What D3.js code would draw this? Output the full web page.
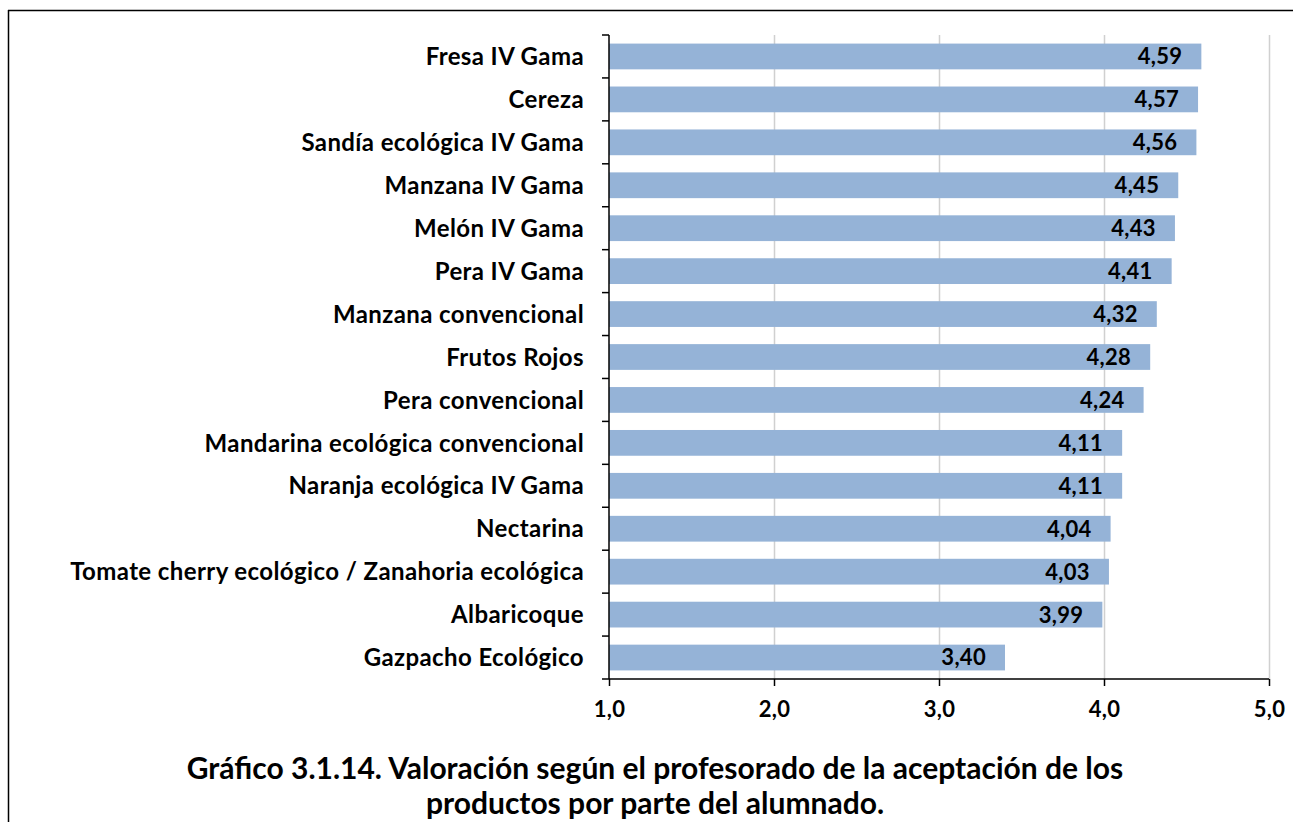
<!doctype html>
<html>
<head>
<meta charset="utf-8">
<style>
    body { margin: 0; background: #fff; }
    svg text { font-family: Lato, "Open Sans", sans-serif; font-weight: bold; fill: #000; }
</style>
<script src="https://d3js.org/d3.v7.min.js"></script>
</head>
<body>
<svg width="1293" height="822"></svg>
<script>
var categories = ["Fresa IV Gama", "Cereza", "Sandía ecológica IV Gama", "Manzana IV Gama",
    "Melón IV Gama", "Pera IV Gama", "Manzana convencional", "Frutos Rojos",
    "Pera convencional", "Mandarina ecológica convencional", "Naranja ecológica IV Gama",
    "Nectarina", "Tomate cherry ecológico / Zanahoria ecológica", "Albaricoque",
    "Gazpacho Ecológico"];
var values = [4.59, 4.57, 4.56, 4.45, 4.43, 4.41, 4.32, 4.28, 4.24, 4.11, 4.11, 4.04, 4.03, 3.99, 3.40];
var xTicks = [1, 2, 3, 4, 5];
var titleLines = ["Gráfico 3.1.14. Valoración según el profesorado de la aceptación de los",
    "productos por parte del alumnado."];

var svg = d3.select("svg");
var fmt = function(v, d) { return v.toFixed(d).replace(".", ","); };

// frame (top + left only, rest is cropped)
svg.append("line").attr("x1", 8).attr("x2", 1293).attr("y1", 10.5).attr("y2", 10.5)
   .attr("stroke", "#000").attr("stroke-width", 1.5);
svg.append("line").attr("x1", 8.5).attr("x2", 8.5).attr("y1", 10).attr("y2", 822)
   .attr("stroke", "#000").attr("stroke-width", 1.5);

var plotLeft = 609, plotRight = 1269, plotTop = 35, plotBottom = 679;

var x = d3.scaleLinear().domain([1, 5]).range([plotLeft, plotRight]);
var y = d3.scaleBand().domain(categories).range([plotTop, plotBottom]).paddingInner(0.4).paddingOuter(0.2);

var g = svg.append("g");

// gridlines
g.selectAll(".grid").data(xTicks.slice(1)).enter().append("line")
 .attr("x1", function(d) { return x(d) + 0.5; })
 .attr("x2", function(d) { return x(d) + 0.5; })
 .attr("y1", plotTop).attr("y2", plotBottom)
 .attr("stroke", "#d0d0d0").attr("stroke-width", 1.5);

// bars
g.selectAll(".bar").data(values).enter().append("rect")
 .attr("x", x(1))
 .attr("y", function(d, i) { return y(categories[i]); })
 .attr("width", function(d) { return x(d) - x(1); })
 .attr("height", y.bandwidth())
 .attr("fill", "#95b3d7");

// value labels
g.selectAll(".val").data(values).enter().append("text")
 .attr("x", function(d) { return x(d) - 19; })
 .attr("y", function(d, i) { return y(categories[i]) + y.bandwidth() / 2; })
 .attr("dy", "0.36em")
 .attr("text-anchor", "end")
 .style("font-size", "22px")
 .style("letter-spacing", "0.3px")
 .text(function(d) { return fmt(d, 2); });

// x axis
var xAxis = g.append("g").attr("transform", "translate(0," + plotBottom + ")")
 .call(d3.axisBottom(x).tickValues(xTicks).tickSize(7).tickPadding(15)
   .tickFormat(function(d) { return fmt(d, 1); }));
xAxis.select(".domain").attr("stroke", "#000").attr("stroke-width", 1.5).attr("d", "M" + plotLeft + ",0H" + plotRight);
xAxis.selectAll(".tick line").attr("stroke", "#000").attr("stroke-width", 1.5);
xAxis.selectAll("text").style("font-size", "22px").style("letter-spacing", "0.3px");

// y axis: separator ticks between categories
var sepY = d3.range(categories.length + 1).map(function(i) {
    return plotTop + i * (plotBottom - plotTop) / categories.length;
});
g.append("line").attr("x1", plotLeft).attr("x2", plotLeft).attr("y1", plotTop).attr("y2", plotBottom)
 .attr("stroke", "#000").attr("stroke-width", 1.5);
g.selectAll(".sep").data(sepY).enter().append("line")
 .attr("x1", plotLeft - 7).attr("x2", plotLeft)
 .attr("y1", function(d) { return d; }).attr("y2", function(d) { return d; })
 .attr("stroke", "#000").attr("stroke-width", 1.5);

// category labels
g.selectAll(".cat").data(categories).enter().append("text")
 .attr("x", 584)
 .attr("y", function(d) { return y(d) + y.bandwidth() / 2; })
 .attr("dy", "0.36em")
 .attr("text-anchor", "end")
 .style("font-size", "24px")
 .style("letter-spacing", "0.4px")
 .text(function(d) { return d; });

// title
svg.selectAll(".title").data(titleLines).enter().append("text")
 .attr("x", 655)
 .attr("y", function(d, i) { return 779 + i * 35; })
 .attr("text-anchor", "middle")
 .style("font-size", "30px")
 .text(function(d) { return d; });
</script>
</body>
</html>
